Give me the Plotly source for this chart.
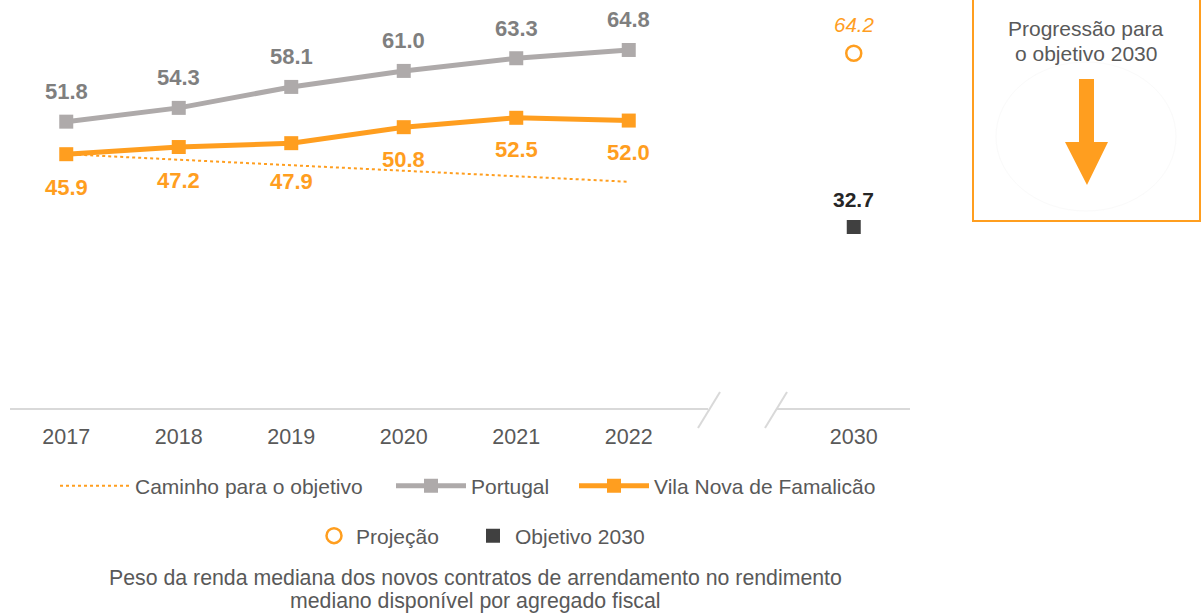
import plotly.graph_objects as go

# ---- data ----
years = ["2017", "2018", "2019", "2020", "2021", "2022"]
portugal = [51.8, 54.3, 58.1, 61.0, 63.3, 64.8]
famalicao = [45.9, 47.2, 47.9, 50.8, 52.5, 52.0]
path_years = ["2017", "2022"]
path_values = [45.9, 40.9]
target_year = "2030"
projection_2030 = 64.2
target_2030 = 32.7

caption_lines = [
    "Peso da renda mediana dos novos contratos de arrendamento no rendimento",
    "mediano disponível por agregado fiscal",
]
panel_lines = ["Progressão para", "o objetivo 2030"]

# ---- styling ----
W, H = 1203, 613
ORANGE = "#FF9E1F"
GRAY_LINE = "#AEAAAA"
GRAY_TEXT = "#7F7F7F"
DARK = "#404040"
TEXT = "#595959"
FONT = "Liberation Sans, Arial, sans-serif"

# category slots: the observed years are consecutive, 2030 sits one empty slot after 2022
slot = {y: i for i, y in enumerate(years)}
slot[target_year] = len(years) + 1
x_obs = [slot[y] for y in years]
x_path = [slot[y] for y in path_years]
x_target = [slot[target_year]]

PLOT_BOTTOM = 409  # px from top where the baseline sits


def px(x):
    return x / W


def py(y):
    return 1 - y / H


fig = go.Figure()

fig.add_trace(go.Scatter(
    x=x_path, y=path_values, mode="lines", name="Caminho para o objetivo",
    line=dict(color=ORANGE, width=2, dash="dot"), legend="legend",
))
fig.add_trace(go.Scatter(
    x=x_obs, y=portugal, mode="lines+markers", name="Portugal",
    line=dict(color=GRAY_LINE, width=5),
    marker=dict(symbol="square", size=14, color=GRAY_LINE), legend="legend2",
))
fig.add_trace(go.Scatter(
    x=x_obs, y=famalicao, mode="lines+markers", name="Vila Nova de Famalicão",
    line=dict(color=ORANGE, width=5),
    marker=dict(symbol="square", size=14, color=ORANGE), legend="legend3",
))
fig.add_trace(go.Scatter(
    x=x_target, y=[projection_2030], mode="markers", name="Projeção",
    marker=dict(symbol="circle-open", size=15, color=ORANGE, line=dict(width=2.5, color=ORANGE)),
    legend="legend4",
))
fig.add_trace(go.Scatter(
    x=x_target, y=[target_2030], mode="markers", name="Objetivo 2030",
    marker=dict(symbol="square", size=14, color=DARK), legend="legend5",
))

# ---- value labels ----
annotations = []
for x, v in zip(x_obs, portugal):
    annotations.append(dict(x=x, y=v, text=f"{v:.1f}", showarrow=False, yshift=30,
                            font=dict(family=FONT, size=22, color=GRAY_TEXT, weight="bold")))
fam_shift = [-33, -33, -38, -32, -32, -32]
for x, v, s in zip(x_obs, famalicao, fam_shift):
    annotations.append(dict(x=x, y=v, text=f"{v:.1f}", showarrow=False, yshift=s,
                            font=dict(family=FONT, size=22, color=ORANGE, weight="bold")))
annotations.append(dict(x=x_target[0], y=projection_2030, text=f"{projection_2030:.1f}",
                        showarrow=False, yshift=29,
                        font=dict(family=FONT, size=20.5, color=ORANGE, style="italic")))
annotations.append(dict(x=x_target[0], y=target_2030, text=f"{target_2030:.1f}",
                        showarrow=False, yshift=28,
                        font=dict(family=FONT, size=21, color="#262626", weight="bold")))

# caption under the legends, one annotation per line for tight spacing
for line, ypix in zip(caption_lines, [578, 601]):
    annotations.append(dict(
        xref="paper", yref="paper", x=px(475), y=py(ypix), xanchor="center", yanchor="middle",
        text=line, showarrow=False, font=dict(family=FONT, size=21.3, color=TEXT),
    ))
# side panel text
for line, ypix in zip(panel_lines, [29, 53]):
    annotations.append(dict(
        xref="paper", yref="paper", x=px(1086), y=py(ypix), xanchor="center", yanchor="middle",
        text=line, showarrow=False, font=dict(family=FONT, size=21, color=TEXT),
    ))

# ---- decorations: broken baseline, side panel, arrow ----
shapes = []
axis_line = dict(color="#D9D9D9", width=2)
shapes.append(dict(type="line", xref="paper", yref="paper", x0=px(10), x1=px(708),
                   y0=py(PLOT_BOTTOM), y1=py(PLOT_BOTTOM), line=axis_line))
shapes.append(dict(type="line", xref="paper", yref="paper", x0=px(777), x1=px(910),
                   y0=py(PLOT_BOTTOM), y1=py(PLOT_BOTTOM), line=axis_line))
shapes.append(dict(type="line", xref="paper", yref="paper", x0=px(698), x1=px(720),
                   y0=py(428), y1=py(392), line=axis_line))
shapes.append(dict(type="line", xref="paper", yref="paper", x0=px(765), x1=px(787),
                   y0=py(428), y1=py(392), line=axis_line))

shapes.append(dict(type="rect", xref="paper", yref="paper", x0=px(973), x1=px(1200),
                   y0=py(221), y1=py(-5), line=dict(color=ORANGE, width=2),
                   fillcolor="rgba(0,0,0,0)"))
shapes.append(dict(type="circle", xref="paper", yref="paper", x0=px(996), x1=px(1176),
                   y0=py(211), y1=py(62), line=dict(color="#FAFAFA", width=1)))


def pth(points):
    return "M " + " L ".join(f"{px(a):.5f},{py(b):.5f}" for a, b in points) + " Z"


arrow = [(1079, 79), (1094, 79), (1094, 142), (1108, 142), (1087, 185),
         (1065, 142), (1079, 142)]
shapes.append(dict(type="path", xref="paper", yref="paper", path=pth(arrow),
                   fillcolor=ORANGE, line=dict(width=0)))


def legend_box(left, y, itemwidth=30):
    return dict(orientation="h", x=px(left), xanchor="left", y=py(y), yanchor="middle",
                font=dict(family=FONT, size=21, color=TEXT), bgcolor="rgba(0,0,0,0)",
                itemwidth=itemwidth, borderwidth=0)


fig.update_layout(
    width=W, height=H,
    margin=dict(l=0, r=0, t=0, b=0),
    paper_bgcolor="white", plot_bgcolor="white",
    font=dict(family=FONT, color=TEXT),
    showlegend=True,
    hovermode=False,
    annotations=annotations,
    shapes=shapes,
    xaxis=dict(
        domain=[px(10), px(910)], range=[-0.5, 7.5],
        tickvals=x_obs + x_target, ticktext=years + [target_year],
        tickfont=dict(family=FONT, size=21.5, color=TEXT),
        showgrid=False, zeroline=False, showline=False,
        ticks="outside", ticklen=8, tickcolor="rgba(0,0,0,0)",
    ),
    yaxis=dict(
        domain=[py(PLOT_BOTTOM), 1], range=[-0.3, 73.86], visible=False,
    ),
    legend=legend_box(55, 486, 70),
    legend2=legend_box(391, 486, 70),
    legend3=legend_box(574, 486, 70),
    legend4=legend_box(312, 536, 34),
    legend5=legend_box(471, 536, 34),
)

fig.write_html("out.html")
